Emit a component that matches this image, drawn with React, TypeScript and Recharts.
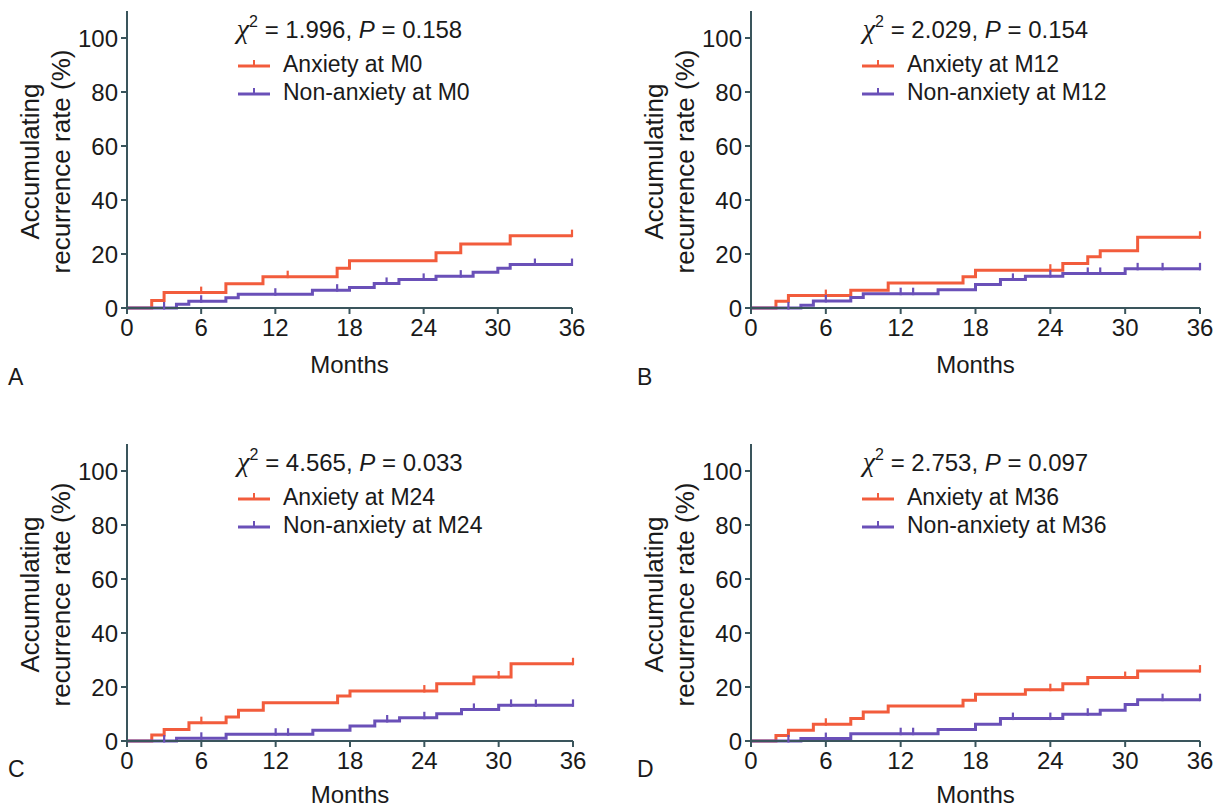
import React from 'react';
import { LineChart, Line, XAxis, YAxis, Legend } from 'recharts';

document.body.style.margin = '0';

const monthTicks = [0, 6, 12, 18, 24, 30, 36];
const rateTicks = [0, 20, 40, 60, 80, 100];

// A: grouped by anxiety status at M0
const aAnxMonths = [0, 2, 3, 8, 11, 17, 18, 25, 27, 31];
const aAnxRates = [0, 2.8, 5.7, 9.0, 11.6, 14.7, 17.5, 20.5, 23.7, 26.8];
const aAnxCensored = [6, 13, 36];
const aNonMonths = [0, 4, 5, 8, 9, 15, 18, 20, 22, 25, 28, 30, 31];
const aNonRates = [0, 1.4, 2.5, 3.8, 5.1, 6.6, 7.6, 9.1, 10.6, 11.8, 13.2, 14.7, 16.1];
const aNonCensored = [3, 6, 12, 17, 21, 24, 27, 33, 36];

// B: M12
const bAnxMonths = [0, 2, 3, 8, 11, 17, 18, 25, 27, 28, 31];
const bAnxRates = [0, 2.5, 4.6, 6.6, 9.3, 11.6, 14.0, 16.5, 19.0, 21.2, 26.2];
const bAnxCensored = [6, 24, 36];
const bNonMonths = [0, 4, 5, 8, 9, 15, 18, 20, 22, 25, 30];
const bNonRates = [0, 1.0, 2.6, 3.9, 5.3, 6.8, 8.7, 10.6, 11.8, 12.8, 14.5];
const bNonCensored = [3, 6, 12, 13, 21, 24, 27, 28, 31, 33, 36];

// C: M24
const cAnxMonths = [0, 2, 3, 5, 8, 9, 11, 17, 18, 25, 28, 31];
const cAnxRates = [0, 2.2, 4.3, 6.8, 8.9, 11.4, 14.2, 16.7, 18.5, 21.2, 23.7, 28.6];
const cAnxCensored = [6, 24, 30, 36];
const cNonMonths = [0, 4, 8, 15, 18, 20, 22, 25, 27, 30];
const cNonRates = [0, 1.0, 2.5, 4.0, 5.6, 7.4, 8.6, 10.1, 11.7, 13.2];
const cNonCensored = [3, 6, 12, 13, 21, 24, 28, 31, 33, 36];

// D: M36
const dAnxMonths = [0, 2, 3, 5, 8, 9, 11, 17, 18, 22, 25, 27, 31];
const dAnxRates = [0, 2.0, 4.0, 6.2, 8.3, 10.7, 13.0, 15.1, 17.3, 19.0, 21.2, 23.5, 25.9];
const dAnxCensored = [6, 24, 30, 36];
const dNonMonths = [0, 4, 8, 15, 18, 20, 25, 28, 30, 31];
const dNonRates = [0, 0.9, 2.7, 4.3, 6.2, 8.3, 9.9, 11.4, 13.5, 15.3];
const dNonCensored = [3, 6, 12, 13, 21, 24, 27, 33, 36];

const panelLetters = ['A', 'B', 'C', 'D'];
const timepoints = ['M0', 'M12', 'M24', 'M36'];
const chiValues = ['1.996', '2.029', '4.565', '2.753'];
const pValues = ['0.158', '0.154', '0.033', '0.097'];

const RED = '#f25c3c';
const PURPLE = '#6a50b8';
const AXIS = '#3a555c';
const INK = '#1a1a1a';
const FONT = '"Liberation Sans", Arial, Helvetica, sans-serif';

type Point = { month: number; rate: number; censored: boolean };

// points at every event and every censored time; the value is the step level in force at that time
const buildSeries = (months: number[], rates: number[], censored: number[]): Point[] => {
  const times = Array.from(new Set([...months, ...censored, 36])).sort((a, b) => a - b);
  return times.map((t) => {
    let idx = 0;
    months.forEach((m, i) => {
      if (m <= t) idx = i;
    });
    return { month: t, rate: rates[idx], censored: censored.includes(t) };
  });
};

const series = [
  { anx: buildSeries(aAnxMonths, aAnxRates, aAnxCensored), non: buildSeries(aNonMonths, aNonRates, aNonCensored) },
  { anx: buildSeries(bAnxMonths, bAnxRates, bAnxCensored), non: buildSeries(bNonMonths, bNonRates, bNonCensored) },
  { anx: buildSeries(cAnxMonths, cAnxRates, cAnxCensored), non: buildSeries(cNonMonths, cNonRates, cNonCensored) },
  { anx: buildSeries(dAnxMonths, dAnxRates, dAnxCensored), non: buildSeries(dNonMonths, dNonRates, dNonCensored) },
];

const layouts = [
  { left: 0, top: 0, width: 600, height: 400, right: 28, xAxisHeight: 92, monthsOffset: 27, letterX: 8, letterY: 364 },
  { left: 624, top: 0, width: 600, height: 400, right: 24, xAxisHeight: 92, monthsOffset: 27, letterX: 13, letterY: 364 },
  { left: 0, top: 433, width: 600, height: 378, right: 27, xAxisHeight: 70, monthsOffset: 8, letterX: 8, letterY: 323 },
  { left: 624, top: 433, width: 597, height: 378, right: 21, xAxisHeight: 70, monthsOffset: 8, letterX: 13, letterY: 323 },
];

const PLOT_LEFT = 127;
const PLOT_TOP = 11;

const censorDot = (color: string) => (props: any) => {
  const { cx, cy, payload, index } = props;
  if (!payload || !payload.censored || cx == null || cy == null) return <g key={`d-${index}`} />;
  return <line key={`d-${index}`} x1={cx} x2={cx} y1={cy - 6} y2={cy + 1.5} stroke={color} strokeWidth={2.2} />;
};

const YLabel = (props: any) => {
  const vb = props.viewBox || {};
  const x = vb.x ?? 0;
  const cy = (vb.y ?? PLOT_TOP) + (vb.height ?? 297) / 2 + 2;
  return (
    <g>
      <text x={x + 39} y={cy} transform={`rotate(-90 ${x + 39} ${cy})`} textAnchor="middle" fontSize={26} fill={INK} fontFamily={FONT}>
        Accumulating
      </text>
      <text x={x + 70} y={cy} transform={`rotate(-90 ${x + 70} ${cy})`} textAnchor="middle" fontSize={26} fill={INK} fontFamily={FONT}>
        recurrence rate (%)
      </text>
    </g>
  );
};

const LegendIcon = ({ color }: { color: string }) => (
  <svg width={34} height={14} style={{ display: 'block' }}>
    <line x1={1} x2={33} y1={9} y2={9} stroke={color} strokeWidth={3} />
    <line x1={17} x2={17} y1={3} y2={10} stroke={color} strokeWidth={2} />
  </svg>
);

const PanelLegend = ({ i }: { i: number }) => (
  <div style={{ fontFamily: FONT, color: INK }}>
    <div style={{ textAlign: 'center', fontSize: 24, lineHeight: '30px', whiteSpace: 'nowrap' }}>
      <span style={{ fontFamily: '"Liberation Serif", serif', fontStyle: 'italic', fontSize: 28 }}>χ</span>
      <span style={{ fontSize: 16, position: 'relative', top: -11 }}>2</span>
      {` = ${chiValues[i]}, `}
      <span style={{ fontStyle: 'italic' }}>P</span>
      {` = ${pValues[i]}`}
    </div>
    <div style={{ marginLeft: 110, marginTop: 2 }}>
      {[
        { color: RED, text: `Anxiety at ${timepoints[i]}` },
        { color: PURPLE, text: `Non-anxiety at ${timepoints[i]}` },
      ].map((row) => (
        <div key={row.text} style={{ display: 'flex', alignItems: 'center', height: 28, fontSize: 23, whiteSpace: 'nowrap' }}>
          <LegendIcon color={row.color} />
          <span style={{ marginLeft: 12 }}>{row.text}</span>
        </div>
      ))}
    </div>
  </div>
);

const Panel = ({ i }: { i: number }) => {
  const lay = layouts[i];
  const plotWidth = lay.width - PLOT_LEFT - lay.right;
  return (
    <div style={{ position: 'absolute', left: lay.left, top: lay.top, width: lay.width, height: lay.height }}>
      <LineChart width={lay.width} height={lay.height} margin={{ top: PLOT_TOP, right: lay.right, bottom: 0, left: 0 }}>
        <XAxis
          type="number"
          dataKey="month"
          domain={[0, 36]}
          ticks={monthTicks}
          height={lay.xAxisHeight}
          stroke={AXIS}
          strokeWidth={2}
          tickSize={6}
          tickMargin={5}
          tick={{ fill: INK, fontSize: 24, fontFamily: FONT }}
          label={{ value: 'Months', position: 'insideBottom', offset: lay.monthsOffset, fill: INK, fontSize: 24, fontFamily: FONT }}
        />
        <YAxis
          type="number"
          domain={[0, 110]}
          ticks={rateTicks}
          width={PLOT_LEFT}
          stroke={AXIS}
          strokeWidth={2}
          tickSize={6}
          tickMargin={3}
          tick={{ fill: INK, fontSize: 24, fontFamily: FONT }}
          label={{ content: (p: any) => <YLabel {...p} /> }}
        />
        <Legend
          layout="horizontal"
          verticalAlign="middle"
          align="center"
          wrapperStyle={{ left: PLOT_LEFT, top: 14, width: plotWidth }}
          content={() => <PanelLegend i={i} />}
        />
        <Line
          data={series[i].anx}
          dataKey="rate"
          type="stepAfter"
          stroke={RED}
          strokeWidth={3}
          dot={censorDot(RED)}
          activeDot={false}
          isAnimationActive={false}
        />
        <Line
          data={series[i].non}
          dataKey="rate"
          type="stepAfter"
          stroke={PURPLE}
          strokeWidth={3}
          dot={censorDot(PURPLE)}
          activeDot={false}
          isAnimationActive={false}
        />
      </LineChart>
      <div style={{ position: 'absolute', left: lay.letterX, top: lay.letterY, fontFamily: FONT, fontSize: 23, color: INK }}>
        {panelLetters[i]}
      </div>
    </div>
  );
};

export default function App() {
  return (
    <div style={{ position: 'relative', width: 1221, height: 811, background: '#fff', overflow: 'hidden' }}>
      {panelLetters.map((_, i) => (
        <Panel key={i} i={i} />
      ))}
    </div>
  );
}
